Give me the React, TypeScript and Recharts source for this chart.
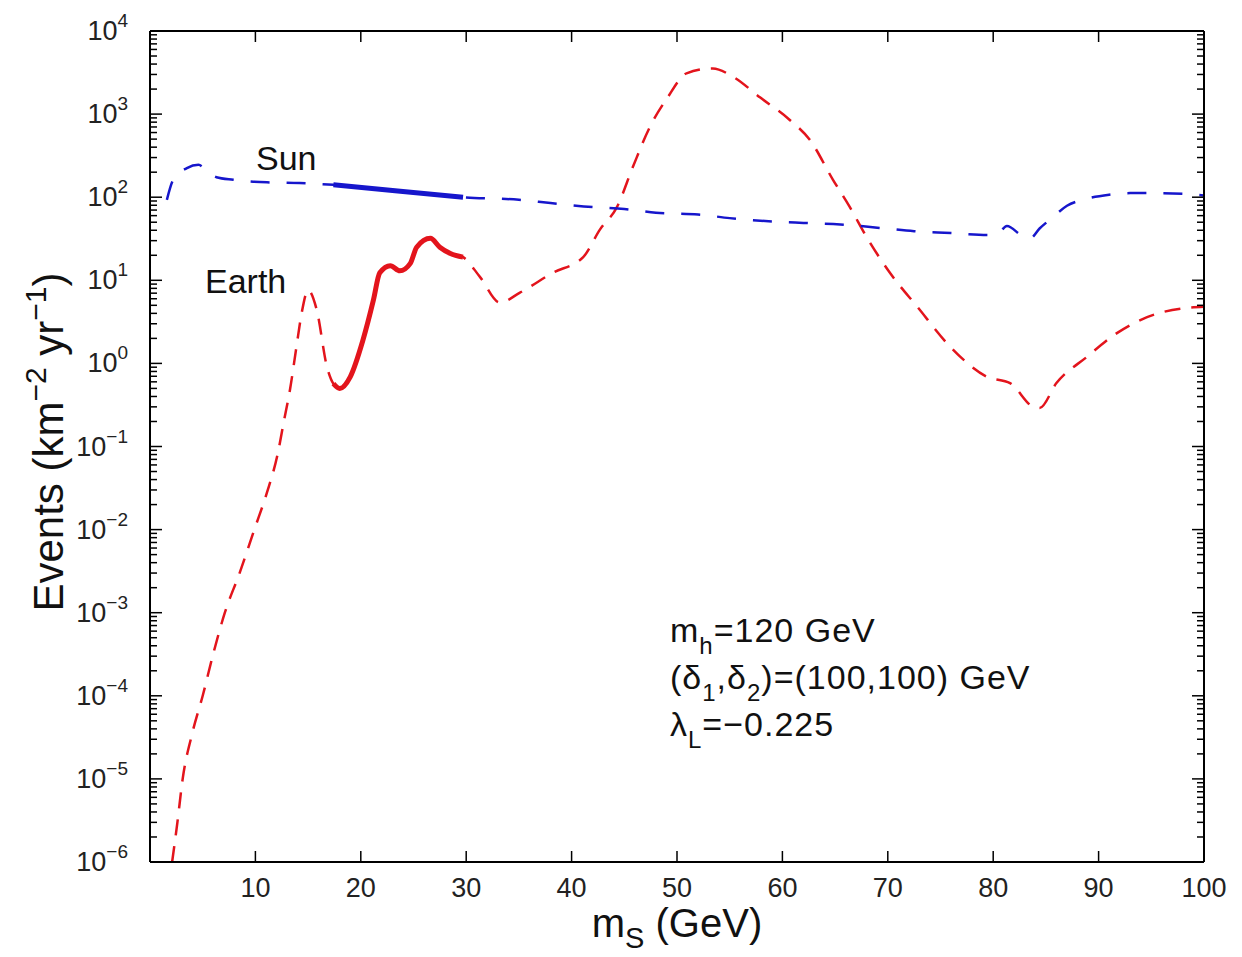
import { Line, LineChart, XAxis, YAxis } from 'recharts'

const RED = '#e3141c'
const BLUE = '#1616cc'
const FONT = '"Liberation Sans", Arial, Helvetica, sans-serif'

// m_S in GeV, events in km^-2 yr^-1
const SUN_X = [
  1.6, 2.2, 3.5, 4.6, 5.5, 6.3, 7.9, 11.1, 14.2, 17.4, 23.5, 29.7, 35, 38, 42, 45, 48, 52, 55, 59, 62, 65.5,
  69, 72.5, 76, 79.5, 80.4, 81.3, 82.8, 83.5, 84.4, 85.7, 87, 88.5, 91, 93, 95, 98, 100,
]
const SUN_Y = [
  93, 162, 224, 245, 200, 174, 162, 151, 148, 141, 119, 100, 93, 85, 76, 72, 65, 62, 56, 51, 49, 47, 43, 39,
  37, 35, 36, 45, 34, 32, 42, 58, 79, 93, 107, 112, 112, 110, 105,
]

const EARTH_X = [
  2.1, 2.6, 3.1, 4.0, 5.0, 6.0, 7.1, 8.5, 9.9, 11.1, 12.1, 12.7, 13.3, 13.9, 14.4, 15.0, 15.8, 16.8, 17.4, 18.0,
  19.0, 20.2, 21.2, 21.8, 22.8, 23.7, 24.7, 25.3, 26.6, 27.5, 28.5, 29.7, 31.3, 33.2, 35.1, 38.2, 41.1, 42.7,
  44.3, 45.8, 47.4, 49.1, 50.9, 53.4, 55.3, 57.9, 60.7, 62.6, 64.8, 66.4, 68.0, 70.2, 72.8, 75.9, 79.4, 81.6,
  83.8, 84.4, 86.0, 88.9, 91.7, 94.6, 98.7, 100,
]
const EARTH_Y = [
  1e-6, 3e-6, 1e-5, 3.5e-5, 1e-4, 3.2e-4, 1e-3, 3e-3, 1e-2, 0.028, 0.08, 0.2, 0.5, 1.6, 4.1, 7.6, 4.5, 0.9, 0.57,
  0.5, 0.69, 1.9, 5.8, 12.3, 15, 13, 16, 25, 32, 25, 21, 19, 11, 5.4, 7.1, 12.3, 19, 41, 76, 229, 690, 1580,
  3090, 3550, 2820, 1580, 850, 490, 162, 76, 33, 12.3, 4.8, 1.6, 0.69, 0.58, 0.3, 0.29, 0.58, 1.2, 2.3, 3.6,
  4.7, 4.8,
]

// range drawn as a thick solid line
const SOLID_FROM = 17.4
const SOLID_TO = 29.7

const X_TICKS = [10, 20, 30, 40, 50, 60, 70, 80, 90, 100]
const DECADES = [1e-6, 1e-5, 1e-4, 1e-3, 1e-2, 1e-1, 1, 10, 100, 1000, 10000]
const MINOR_STEPS = [2, 3, 4, 5, 6, 7, 8, 9]

const Y_TICKS = DECADES.flatMap((d, i) =>
  i < DECADES.length - 1 ? [d, ...MINOR_STEPS.map((m) => m * d)] : [d]
)

const sunData = SUN_X.map((x, i) => ({ x, y: SUN_Y[i] }))
const earthData = EARTH_X.map((x, i) => ({ x, y: EARTH_Y[i] }))
const sunSolid = sunData.filter((p) => p.x >= SOLID_FROM && p.x <= SOLID_TO)
const earthSolid = earthData.filter((p) => p.x >= SOLID_FROM && p.x <= SOLID_TO)

function isMajor(v: number) {
  const l = Math.log10(v)
  return Math.abs(l - Math.round(l)) < 1e-6
}

function LeftTick(props: any) {
  const { x, y, payload } = props
  const v = payload.value as number
  const major = isMajor(v)
  return (
    <g>
      <line x1={x} x2={x + (major ? 12 : 7)} y1={y} y2={y} stroke="#000" strokeWidth={1.5} />
      {major && (
        <text x={x - 22} y={y + 9} textAnchor="end" fontSize={27} fill="#222" fontFamily={FONT}>
          10
          <tspan dy={-13} fontSize={19}>
            {String(Math.round(Math.log10(v))).replace('-', '\u2212')}
          </tspan>
        </text>
      )}
    </g>
  )
}

function RightTick(props: any) {
  const { x, y, payload } = props
  const major = isMajor(payload.value)
  return <line x1={x} x2={x - (major ? 12 : 7)} y1={y} y2={y} stroke="#000" strokeWidth={1.5} />
}

function BottomTick(props: any) {
  const { x, y, payload } = props
  return (
    <g>
      {payload.value < 100 && <line x1={x} x2={x} y1={y} y2={y - 11} stroke="#000" strokeWidth={1.5} />}
      <text x={x} y={y + 35} textAnchor="middle" fontSize={27} fill="#222" fontFamily={FONT}>
        {payload.value}
      </text>
    </g>
  )
}

function TopTick(props: any) {
  const { x, y, payload } = props
  if (payload.value >= 100) return <g />
  return <line x1={x} x2={x} y1={y} y2={y + 11} stroke="#000" strokeWidth={1.5} />
}

export default function App() {
  return (
    <div style={{ position: 'absolute', left: 0, top: 0, width: 1242, height: 957, background: '#fff' }}>
      <LineChart width={1242} height={957} margin={{ top: 30, right: 37, bottom: 0, left: 0 }}>
        <XAxis
          type="number"
          dataKey="x"
          domain={[0, 100]}
          ticks={X_TICKS}
          interval={0}
          height={95}
          tickSize={0}
          tickMargin={0}
          tick={BottomTick}
          axisLine={{ stroke: '#000', strokeWidth: 2 }}
          allowDataOverflow
        />
        <XAxis
          xAxisId="top"
          orientation="top"
          type="number"
          dataKey="x"
          domain={[0, 100]}
          ticks={X_TICKS}
          interval={0}
          height={1}
          tickSize={0}
          tickMargin={0}
          tick={TopTick}
          axisLine={{ stroke: '#000', strokeWidth: 2 }}
          allowDataOverflow
        />
        <YAxis
          type="number"
          scale="log"
          domain={[1e-6, 1e4]}
          ticks={Y_TICKS}
          interval={0}
          width={150}
          tickSize={0}
          tickMargin={0}
          tick={LeftTick}
          axisLine={{ stroke: '#000', strokeWidth: 2 }}
          allowDataOverflow
        />
        <YAxis
          yAxisId="right"
          orientation="right"
          type="number"
          scale="log"
          domain={[1e-6, 1e4]}
          ticks={Y_TICKS}
          interval={0}
          width={1}
          tickSize={0}
          tickMargin={0}
          tick={RightTick}
          axisLine={{ stroke: '#000', strokeWidth: 2 }}
          allowDataOverflow
        />
        <Line
          data={earthData}
          dataKey="y"
          type="monotone"
          stroke={RED}
          strokeWidth={2.5}
          strokeDasharray="16 11"
          dot={false}
          isAnimationActive={false}
        />
        <Line
          data={earthSolid}
          dataKey="y"
          type="monotone"
          stroke={RED}
          strokeWidth={5}
          dot={false}
          isAnimationActive={false}
        />
        <Line
          data={sunData}
          dataKey="y"
          type="monotone"
          stroke={BLUE}
          strokeWidth={2.5}
          strokeDasharray="19 17"
          dot={false}
          isAnimationActive={false}
        />
        <Line
          data={sunSolid}
          dataKey="y"
          type="monotone"
          stroke={BLUE}
          strokeWidth={5}
          dot={false}
          isAnimationActive={false}
        />
      </LineChart>

      <svg
        width={1242}
        height={957}
        style={{ position: 'absolute', left: 0, top: 0, pointerEvents: 'none' }}
        fontFamily={FONT}
        fill="#111"
      >
        <text x={256} y={170} fontSize={34}>Sun</text>
        <text x={205} y={293} fontSize={34}>Earth</text>

        <text x={670} y={642} fontSize={34} letterSpacing={1}>
          m<tspan dy={12} fontSize={24}>h</tspan>
          <tspan dy={-12}>=120 GeV</tspan>
        </text>
        <text x={670} y={689} fontSize={34} letterSpacing={1}>
          (δ<tspan dy={12} fontSize={24}>1</tspan>
          <tspan dy={-12}>,δ</tspan>
          <tspan dy={12} fontSize={24}>2</tspan>
          <tspan dy={-12}>)=(100,100) GeV</tspan>
        </text>
        <text x={670} y={736} fontSize={34} letterSpacing={1}>
          λ<tspan dy={12} fontSize={24}>L</tspan>
          <tspan dy={-12}>=−0.225</tspan>
        </text>

        <text x={677} y={937} fontSize={40} textAnchor="middle">
          m<tspan dy={11} fontSize={29}>S</tspan>
          <tspan dy={-11}> (GeV)</tspan>
        </text>

        <text transform="translate(63,442) rotate(-90)" fontSize={42} textAnchor="middle">
          Events (km<tspan dy={-17} fontSize={30}>−2</tspan>
          <tspan dy={17}> yr</tspan>
          <tspan dy={-17} fontSize={30}>−1</tspan>
          <tspan dy={17}>)</tspan>
        </text>
      </svg>
    </div>
  )
}
